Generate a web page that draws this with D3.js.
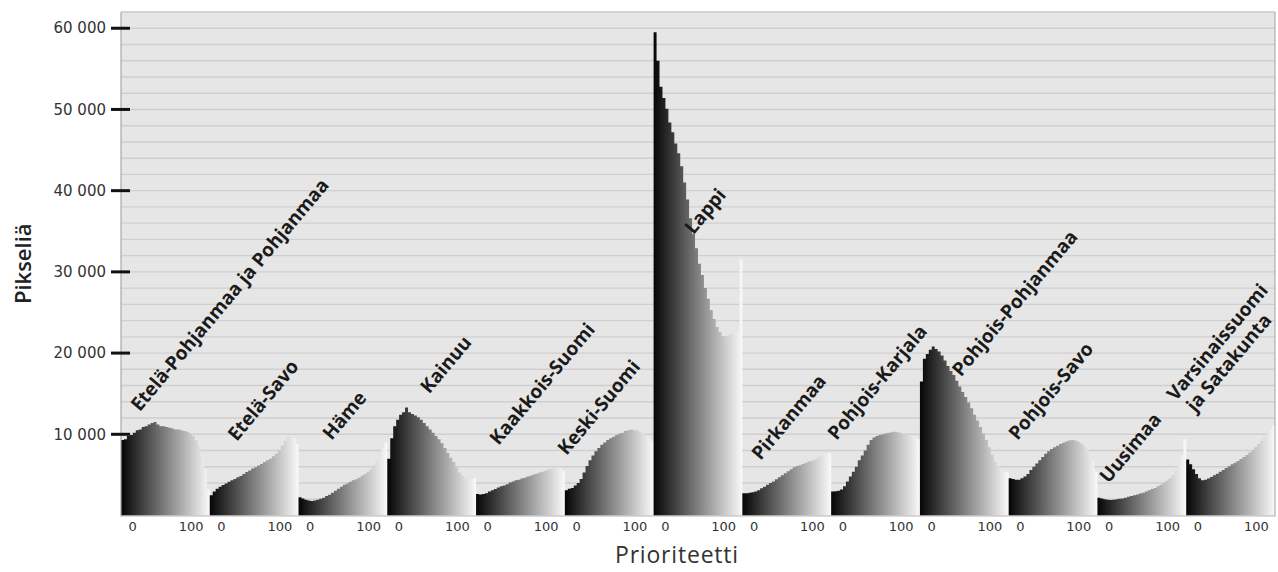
<!DOCTYPE html>
<html>
<head>
<meta charset="utf-8">
<script src="https://cdn.jsdelivr.net/npm/d3@7/dist/d3.min.js"></script>
<style>
  html, body { margin: 0; padding: 0; background: #ffffff; }
  svg { display: block; }
</style>
</head>
<body>
<svg id="chart" width="1278" height="572"></svg>
<script>
// Regions, each drawn as its own pixel-count histogram over priority.
const regions = [
  "Etelä-Pohjanmaa ja Pohjanmaa", "Etelä-Savo", "Häme", "Kainuu",
  "Kaakkois-Suomi", "Keski-Suomi", "Lappi", "Pirkanmaa",
  "Pohjois-Karjala", "Pohjois-Pohjanmaa", "Pohjois-Savo", "Uusimaa",
  "Varsinaissuomi ja Satakunta"
];

// Pixel counts per histogram bin, 30 bins per region, low to high priority.
const etelaPohjanmaa = [9300, 9400, 9800, 9900, 10200, 10500, 10600, 10900, 11000, 11200, 11400, 11500, 11200, 11000, 11000, 10900, 10800, 10700, 10600, 10600, 10500, 10400, 10300, 10100, 9800, 9300, 8500, 7400, 5800, 3200];
const etelaSavo = [2500, 2950, 3300, 3550, 3750, 3950, 4150, 4350, 4500, 4700, 4850, 5100, 5350, 5550, 5800, 5950, 6150, 6350, 6600, 6800, 7000, 7300, 7600, 8000, 8600, 9200, 9700, 9800, 9500, 8800];
const hame = [2250, 2100, 1950, 1850, 1800, 1850, 1950, 2050, 2200, 2400, 2550, 2800, 3050, 3300, 3550, 3800, 3950, 4150, 4350, 4450, 4650, 4900, 5100, 5400, 5700, 6200, 6700, 7600, 8400, 9000];
const kainuu = [7000, 9500, 11000, 11800, 12400, 12700, 13300, 12700, 12500, 12300, 12100, 11800, 11400, 11000, 10600, 10200, 9800, 9400, 8900, 8300, 7700, 7100, 6600, 5900, 5300, 4900, 4600, 4500, 4500, 4600];
const kaakkoisSuomi = [2650, 2600, 2650, 2750, 2950, 3100, 3250, 3450, 3600, 3700, 3850, 4050, 4200, 4350, 4400, 4550, 4650, 4800, 4900, 5050, 5150, 5300, 5400, 5500, 5650, 5750, 5850, 5900, 5850, 5500];
const keskiSuomi = [3100, 3300, 3400, 3700, 4000, 4500, 5300, 6100, 6800, 7400, 7900, 8300, 8700, 9000, 9300, 9500, 9700, 9900, 10100, 10200, 10400, 10500, 10600, 10500, 10500, 10300, 10100, 9900, 9600, 9200];
const lappi = [59500, 56000, 52800, 51400, 50100, 48400, 47200, 45800, 44600, 43000, 41000, 38900, 36600, 34700, 32900, 31000, 29600, 28000, 26700, 25300, 24200, 23200, 22600, 22100, 22000, 22200, 22400, 22400, 22700, 31500];
const pirkanmaa = [2750, 2750, 2800, 2850, 2950, 3100, 3350, 3550, 3800, 4000, 4200, 4450, 4700, 4950, 5200, 5450, 5700, 5950, 6100, 6200, 6350, 6500, 6650, 6750, 6900, 7050, 7250, 7500, 7650, 7700];
const pohjoisKarjala = [2950, 3000, 3050, 3200, 3600, 4200, 4800, 5400, 6000, 6800, 7400, 8000, 8700, 9300, 9600, 9800, 9900, 10000, 10100, 10200, 10250, 10300, 10250, 10200, 10000, 9900, 9800, 9700, 9600, 9400];
const pohjoisPohjanmaa = [16500, 19300, 19900, 20400, 20800, 20500, 20200, 19700, 19100, 18400, 17800, 17300, 16600, 15900, 15200, 14600, 13900, 13200, 12400, 11700, 10900, 10100, 9300, 8400, 7500, 6600, 6000, 5600, 5400, 5400];
const pohjoisSavo = [4600, 4500, 4400, 4400, 4600, 4800, 5100, 5600, 6000, 6400, 6800, 7200, 7600, 7900, 8200, 8400, 8600, 8800, 8950, 9100, 9250, 9300, 9250, 9100, 8900, 8600, 8200, 7600, 6800, 5400];
const uusimaa = [2200, 2100, 2000, 1950, 1900, 1950, 2000, 2050, 2100, 2200, 2300, 2400, 2500, 2600, 2700, 2800, 2950, 3100, 3250, 3400, 3600, 3800, 4000, 4300, 4600, 5000, 5500, 6200, 7400, 9400];
const varsinaisSatakunta = [6900, 6300, 5700, 5100, 4600, 4350, 4400, 4550, 4750, 4950, 5150, 5400, 5600, 5850, 6050, 6300, 6500, 6700, 6950, 7200, 7450, 7750, 8050, 8400, 8800, 9200, 9600, 10100, 10600, 11100];

const seriesValues = [
  etelaPohjanmaa, etelaSavo, hame, kainuu, kaakkoisSuomi, keskiSuomi, lappi,
  pirkanmaa, pohjoisKarjala, pohjoisPohjanmaa, pohjoisSavo, uusimaa, varsinaisSatakunta
];

// Axis ticks.
const yTickValues = [10000, 20000, 30000, 40000, 50000, 60000];
const xTickValues = [0, 100];
const priorityDomain = [-20, 132];
const yMax = 62000;
const gridStep = 2000;

// Where each region name starts, as [priority, pixel count] inside its panel.
const labelAnchors = [
  [12, 12700], [26, 9040], [36.5, 9160], [52, 14900], [18.5, 8550], [-17, 7320],
  [48.5, 34500], [11, 6700], [-10.8, 9160], [50.5, 17000], [-5, 9160], [-1, 3875], [-38, 14000]
];

// ---- layout ----
const svg = d3.select("#chart");
const plot = { left: 121, right: 1275, top: 12, bottom: 515.5 };

const y = d3.scaleLinear().domain([0, yMax]).range([plot.bottom, plot.top]);
const panel = d3.scaleBand().domain(regions).range([plot.left, plot.right]).padding(0);

const fiLocale = d3.formatLocale({ decimal: ",", thousands: "\u00a0", grouping: [3], currency: ["", " €"] });
const fmt = fiLocale.format(",");

// plot background
svg.append("rect")
  .attr("x", plot.left).attr("y", plot.top)
  .attr("width", plot.right - plot.left).attr("height", plot.bottom - plot.top)
  .attr("fill", "#e6e6e6");

// horizontal grid every 2000 pixels
const gridValues = d3.range(gridStep, yMax + 1, gridStep);
svg.append("g").selectAll("line").data(gridValues).join("line")
  .attr("x1", plot.left).attr("x2", plot.right)
  .attr("y1", d => y(d)).attr("y2", d => y(d))
  .attr("stroke", "#cfcfcf").attr("stroke-width", 1.4);

// grayscale ramp per panel, black at low priority to white at high priority
const defs = svg.append("defs");
regions.forEach((r, i) => {
  const g = defs.append("linearGradient")
    .attr("id", "ramp" + i)
    .attr("gradientUnits", "userSpaceOnUse")
    .attr("x1", panel(r)).attr("x2", panel(r) + panel.bandwidth())
    .attr("y1", 0).attr("y2", 0);
  g.append("stop").attr("offset", "0%").attr("stop-color", "#050505");
  g.append("stop").attr("offset", "100%").attr("stop-color", "#fafafa");
});

// histograms: each panel is one stepped outline of its bins
regions.forEach((r, i) => {
  const x = d3.scaleLinear().domain(priorityDomain).range([panel(r), panel(r) + panel.bandwidth()]);
  const vals = seriesValues[i];
  const binW = (priorityDomain[1] - priorityDomain[0]) / vals.length;
  const steps = vals.map((v, k) => ({ p: priorityDomain[0] + k * binW, v }));
  steps.push({ p: priorityDomain[1], v: vals[vals.length - 1] });

  const area = d3.area()
    .curve(d3.curveStepAfter)
    .x(d => x(d.p))
    .y0(y(0))
    .y1(d => y(d.v));

  svg.append("path")
    .datum(steps)
    .attr("d", area)
    .attr("fill", "url(#ramp" + i + ")");

  // priority ticks under each panel
  svg.append("g").selectAll("text").data(xTickValues).join("text")
    .attr("x", d => x(d))
    .attr("y", 531)
    .attr("text-anchor", "middle")
    .attr("font-family", "DejaVu Sans, Verdana, sans-serif")
    .attr("font-size", 13)
    .attr("fill", "#333")
    .text(d => d);

  // region name, rotated
  const [lp, lv] = labelAnchors[i];
  const t = svg.append("text")
    .attr("transform", `translate(${x(lp)},${y(lv)}) rotate(-50)`)
    .attr("font-family", "Open Sans, Noto Sans, sans-serif")
    .attr("font-weight", 700)
    .attr("font-size", 19)
    .attr("fill", "#1a1a1a");
  const lines = r === "Varsinaissuomi ja Satakunta" ? ["Varsinaissuomi", "ja Satakunta"] : [r];
  lines.forEach((ln, k) => {
    t.append("tspan").attr("x", k === 0 ? 0 : 4).attr("dy", k === 0 ? 0 : 22).text(ln);
  });
});

// frame lines
svg.append("line").attr("x1", plot.left).attr("x2", plot.left).attr("y1", plot.top).attr("y2", plot.bottom + 1)
  .attr("stroke", "#a8a8a8").attr("stroke-width", 1.2);
svg.append("line").attr("x1", plot.right).attr("x2", plot.right).attr("y1", plot.top).attr("y2", plot.bottom + 1)
  .attr("stroke", "#b0b0b0").attr("stroke-width", 1.2);
svg.append("line").attr("x1", plot.left).attr("x2", plot.right).attr("y1", plot.bottom + 0.5).attr("y2", plot.bottom + 0.5)
  .attr("stroke", "#b5b5b5").attr("stroke-width", 1.2);
svg.append("line").attr("x1", plot.left).attr("x2", plot.right).attr("y1", plot.top).attr("y2", plot.top)
  .attr("stroke", "#cfcfcf").attr("stroke-width", 1.2);

// y axis: heavy tick marks and labels
const yAxis = svg.append("g");
yAxis.selectAll("line").data(yTickValues).join("line")
  .attr("x1", 111).attr("x2", 130)
  .attr("y1", d => y(d)).attr("y2", d => y(d))
  .attr("stroke", "#111").attr("stroke-width", 3);
yAxis.selectAll("text").data(yTickValues).join("text")
  .attr("x", 106).attr("y", d => y(d))
  .attr("dy", "0.35em")
  .attr("text-anchor", "end")
  .attr("font-family", "DejaVu Sans, Verdana, sans-serif")
  .attr("font-size", 15)
  .attr("fill", "#333")
  .text(d => fmt(d));

// axis titles
svg.append("text")
  .attr("transform", `translate(31,${(plot.top + plot.bottom) / 2}) rotate(-90)`)
  .attr("text-anchor", "middle")
  .attr("font-family", "Open Sans, Noto Sans, sans-serif")
  .attr("font-weight", 600)
  .attr("font-size", 22)
  .attr("fill", "#222")
  .text("Pikseliä");

svg.append("text")
  .attr("x", 677)
  .attr("y", 563)
  .attr("text-anchor", "middle")
  .attr("font-family", "Open Sans, Noto Sans, sans-serif")
  .attr("font-size", 23)
  .attr("letter-spacing", 0.8)
  .attr("fill", "#333")
  .text("Prioriteetti");
</script>
</body>
</html>
